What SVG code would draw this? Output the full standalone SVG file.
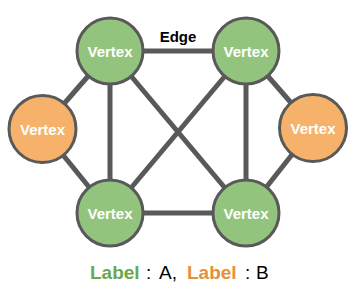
<svg xmlns="http://www.w3.org/2000/svg" width="353" height="288" viewBox="0 0 353 288">
<style>
.e{stroke:#595959;stroke-width:5;fill:none}
.a{fill:#93c47d;stroke:#595959;stroke-width:3}
.b{fill:#f6b26b;stroke:#595959;stroke-width:3}
.t{font-family:"Liberation Sans",Arial,sans-serif;font-weight:bold;font-size:15px;fill:#fff;text-anchor:middle}
</style>
<rect width="353" height="288" fill="#fff"/>
<g id="connectors">
<line class="e" x1="110" y1="51" x2="246" y2="51"/>
<line class="e" x1="110" y1="51" x2="42" y2="129"/>
<line class="e" x1="110" y1="51" x2="110" y2="213"/>
<line class="e" x1="110" y1="51" x2="246" y2="213"/>
<line class="e" x1="246" y1="51" x2="110" y2="213"/>
<line class="e" x1="246" y1="51" x2="313" y2="128"/>
<line class="e" x1="246" y1="51" x2="246" y2="213"/>
<line class="e" x1="110" y1="213" x2="246" y2="213"/>
<line class="e" x1="110" y1="213" x2="42" y2="129"/>
<line class="e" x1="246" y1="213" x2="313" y2="128"/>
</g>
<text x="178" y="42" font-family="Liberation Sans,Arial,sans-serif" font-weight="bold" font-size="15" text-anchor="middle" fill="#000">Edge</text>
<g id="v1"><circle class="a" cx="110" cy="51" r="33"/><text class="t" x="110" y="56.5">Vertex</text></g>
<g id="v2"><circle class="a" cx="246" cy="51" r="33"/><text class="t" x="246" y="56.5">Vertex</text></g>
<g id="v3"><circle class="b" cx="42.5" cy="129" r="33.5"/><text class="t" x="42.5" y="134.5">Vertex</text></g>
<g id="v4"><circle class="b" cx="313" cy="128" r="33.5"/><text class="t" x="313" y="133.5">Vertex</text></g>
<g id="v5"><circle class="a" cx="110" cy="213" r="33"/><text class="t" x="110" y="218.5">Vertex</text></g>
<g id="v6"><circle class="a" cx="246" cy="213" r="33"/><text class="t" x="246" y="218.5">Vertex</text></g>
<text y="278.5" font-family="Liberation Sans,Arial,sans-serif" font-size="19" fill="#000"><tspan x="90" fill="#6aa84f" font-weight="bold">Label</tspan><tspan x="146">:</tspan><tspan x="159">A,</tspan><tspan x="187" fill="#e69138" font-weight="bold">Label</tspan><tspan x="245">:</tspan><tspan x="256">B</tspan></text>
</svg>
